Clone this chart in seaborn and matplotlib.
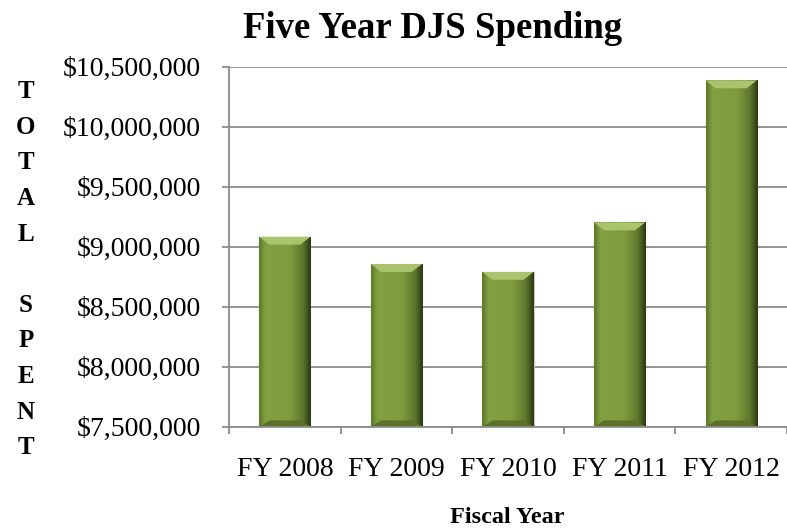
import numpy as np
import pandas as pd
import matplotlib
matplotlib.use("Agg")
import matplotlib.pyplot as plt
import seaborn as sns
from matplotlib.patches import Polygon
from matplotlib.ticker import FuncFormatter

categories = ["FY 2008", "FY 2009", "FY 2010", "FY 2011", "FY 2012"]
spending = [9083000, 8856000, 8790000, 9202000, 10386000]
y_ticks = [7500000, 8000000, 8500000, 9000000, 9500000, 10000000, 10500000]
title = "Five Year DJS Spending"
x_title = "Fiscal Year"
y_title = "T\nO\nT\nA\nL\n\nS\nP\nE\nN\nT"

sns.set_theme(style="white")
plt.rcParams["font.family"] = ["Liberation Serif", "DejaVu Serif"]
plt.rcParams["text.color"] = "black"
plt.rcParams["xtick.color"] = "black"
plt.rcParams["ytick.color"] = "black"

df = pd.DataFrame({"year": categories, "spent": spending})

fig = plt.figure(figsize=(7.87, 5.31), dpi=100)
ax = fig.add_axes([0.291, 0.1964, 0.709, 0.678])

sns.barplot(data=df, x="year", y="spent", color="#7E9C3F", width=0.46,
            saturation=1, ax=ax, zorder=3)

ylo, yhi = y_ticks[0], y_ticks[-1]
ax.set_ylim(ylo, yhi)
ax.set_xlim(-0.5, len(categories) - 0.5)
ax.set_yticks(y_ticks)
ax.yaxis.set_major_formatter(FuncFormatter(lambda v, p: "${:,.0f}".format(v)))
ax.grid(axis="y", color="#8C8C8C", linewidth=1.3, zorder=0)
ax.set_axisbelow(True)

# bevel shading on each bar (visible part only)
grad = np.linspace(0, 1, 64)
cmap = matplotlib.colors.LinearSegmentedColormap.from_list(
    "bev", [(0.0, "#5E7A2A"), (0.12, "#83A043"), (0.6, "#7E9B3E"),
            (0.85, "#5E772C"), (1.0, "#2E3A12")])
yr = yhi - ylo
for p in ax.patches:
    x0, w = p.get_x(), p.get_width()
    top = p.get_y() + p.get_height()
    y0 = max(p.get_y(), ylo)
    ax.imshow(grad[np.newaxis, :], cmap=cmap, aspect="auto",
              extent=[x0, x0 + w, y0, top], zorder=4)
    bh = yr * 0.022
    inset = w * 0.2
    ax.add_patch(Polygon([[x0, top], [x0 + w, top], [x0 + w - inset, top - bh],
                          [x0 + inset, top - bh]], closed=True,
                         facecolor="#A9C46C", edgecolor="none", zorder=5))
    ax.add_patch(Polygon([[x0, y0], [x0 + w, y0], [x0 + w - inset, y0 + bh * 0.8],
                          [x0 + inset, y0 + bh * 0.8]], closed=True,
                         facecolor="#5C722B", edgecolor="none", zorder=5))
    p.set_edgecolor("#C8C8C8")
    p.set_linewidth(0.8)

ax.set_xlim(-0.5, len(categories) - 0.5)
ax.set_ylim(ylo, yhi)

for s in ["top", "right"]:
    ax.spines[s].set_visible(False)
for s in ["left", "bottom"]:
    ax.spines[s].set_color("#8C8C8C")
    ax.spines[s].set_linewidth(1.3)
    ax.spines[s].set_zorder(6)

ax.set_xticks(np.arange(len(categories)))
ax.set_xticklabels(categories)
ax.set_xticks(np.arange(len(categories) + 1) - 0.5, minor=True)
ax.tick_params(axis="x", which="major", length=0, pad=22, labelsize=20)
ax.tick_params(axis="x", which="minor", length=4.7, width=1.3, color="#8C8C8C",
               direction="out", bottom=True)
ax.tick_params(axis="y", length=5, width=1.3, color="#8C8C8C", pad=15, labelsize=20,
               left=True, direction="out")
ax.set_xlabel("")
ax.set_ylabel("")

fig.text(0.55, 0.947, title, ha="center", va="center", fontsize=26.5, fontweight="bold")
fig.text(0.645, 0.0245, x_title, ha="center", va="center", fontsize=17.5, fontweight="bold")
fig.text(0.033, 0.492, y_title, ha="center", va="center", fontsize=18, fontweight="bold",
         linespacing=1.7)

fig.savefig("out.png", dpi=100)
